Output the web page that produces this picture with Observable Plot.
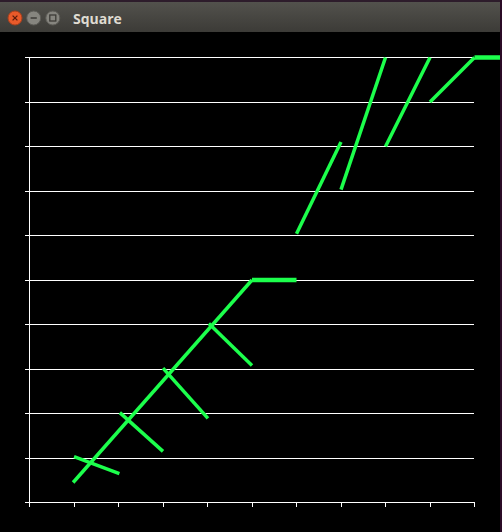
<!DOCTYPE html>
<html><head><meta charset="utf-8">
<script src="https://cdn.jsdelivr.net/npm/d3@7"></script>
<script src="https://cdn.jsdelivr.net/npm/@observablehq/plot@0.6"></script>
<style>
html,body{margin:0;padding:0;background:#2b0b26;}
#win{position:relative;width:500px;height:532px;background:#000;overflow:hidden;}
#titlebar{display:block}
#chart{width:500px;height:500px;overflow:hidden}
#chart svg{display:block}
</style></head><body>
<div id="win">
<svg id="titlebar" width="500" height="32">
<defs><linearGradient id="tb" x1="0" y1="0" x2="0" y2="1"><stop offset="0" stop-color="#54534e"/><stop offset="1" stop-color="#3c3b37"/></linearGradient></defs>
<rect width="500" height="32" fill="url(#tb)"/>
<rect width="500" height="2" fill="#2d1c2b"/>
<circle cx="15" cy="18" r="7" fill="#e95a2a" stroke="#a8401c"/>
<path d="M12.6 15.6 L17.4 20.4 M17.4 15.6 L12.6 20.4" stroke="#5a1c0c" stroke-width="1.3"/>
<circle cx="33.7" cy="18" r="7" fill="#86857f" stroke="#5d5c57"/>
<path d="M30.6 18 H36.8" stroke="#3c3b37" stroke-width="1.5"/>
<circle cx="52.8" cy="18" r="7" fill="#86857f" stroke="#5d5c57"/>
<rect x="49.8" y="15" width="6" height="6" fill="none" stroke="#3c3b37" stroke-width="1.3"/>
<text x="73" y="23.5" fill="#dfdbd2" font-family="Open Sans" font-weight="bold" font-size="14">Square</text>
</svg>
<div id="chart"></div>
</div>
<script>
// axis ticks (no labels shown in the reference)
const xTicks = [0,1,2,3,4,5,6,7,8,9,10];
const yTicks = [0,1,2,3,4,5,6,7,8,9,10];

// long diagonal line
const diagX = [0.98, 5];
const diagY = [0.45, 5];

// short segments, each starting near (i, i)
const segX1 = [1, 2.03, 3, 4.03, 5, 6, 7, 8, 9, 10];
const segY1 = [1.03, 2.02, 3.02, 4.02, 5, 6.04, 7.03, 8, 9, 10];
const segX2 = [2.02, 3, 4.01, 5, 6, 7, 8, 9, 10, 11];
const segY2 = [0.65, 1.15, 1.89, 3.08, 5, 8.1, 10, 10, 10, 10];

const GREEN = "#1cff4c";
const diag = diagX.map((x, i) => ({x, y: diagY[i]}));
const segs = segX1.map((x1, i) => ({x1, y1: segY1[i], x2: segX2[i], y2: segY2[i]}));
const flat = segs.filter(d => d.y1 === d.y2);
const slanted = segs.filter(d => d.y1 !== d.y2);

const chart = Plot.plot({
  width: 500, height: 500,
  marginLeft: 29, marginRight: 26, marginTop: 25, marginBottom: 30,
  style: {background: "#000", overflow: "hidden"},
  x: {domain: [0, 10], axis: null},
  y: {domain: [0, 10], axis: null},
  marks: [
    Plot.ruleY(yTicks, {y: d => d, x1: -0.09, x2: 10, stroke: "#fff", strokeWidth: 1, shapeRendering: "crispEdges"}),
    Plot.ruleX([0], {x: d => d, y1: -0.11, y2: 10, stroke: "#fff", strokeWidth: 1, shapeRendering: "crispEdges"}),
    Plot.ruleX(xTicks, {x: d => d, y1: -0.11, y2: 0, stroke: "#fff", strokeWidth: 1, shapeRendering: "crispEdges"}),
    Plot.line(diag, {x: "x", y: "y", stroke: GREEN, strokeWidth: 3.5, strokeLinecap: "butt"}),
    Plot.link(slanted, {x1: "x1", y1: "y1", x2: "x2", y2: "y2", stroke: GREEN, strokeWidth: 3.5, strokeLinecap: "butt"}),
    Plot.link(flat, {x1: "x1", y1: "y1", x2: "x2", y2: "y2", stroke: GREEN, strokeWidth: 4.5, strokeLinecap: "butt"})
  ]
});
document.getElementById("chart").appendChild(chart);
</script>
</body></html>
